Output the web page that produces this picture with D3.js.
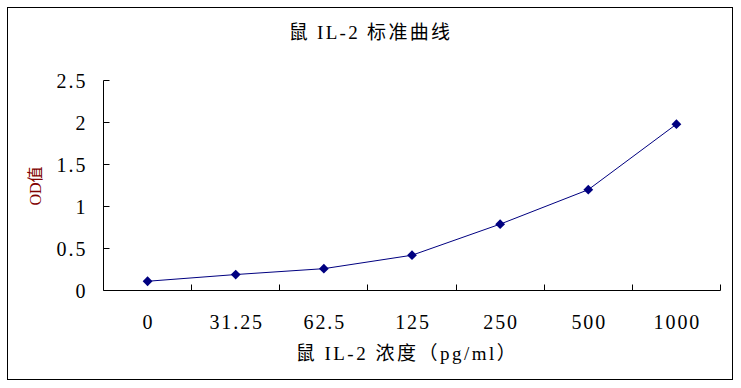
<!DOCTYPE html>
<html><head><meta charset="utf-8">
<script src="https://cdn.jsdelivr.net/npm/d3@7"></script>
<style>
html,body{margin:0;padding:0;background:#fff;}
svg text{font-family:"Liberation Serif","Noto Sans CJK SC",serif;}
</style></head>
<body>
<svg id="c" width="741" height="388"></svg>
<script>
const categories = ["0", "31.25", "62.5", "125", "250", "500", "1000"];
const odValues = [0.11, 0.19, 0.26, 0.42, 0.79, 1.20, 1.98];
const yTicks = [0, 0.5, 1, 1.5, 2, 2.5];
const yTickLabels = ["0", "0.5", "1", "1.5", "2", "2.5"];
const titleText = "鼠 IL-2 标准曲线";
const xTitleText = "鼠 IL-2 浓度（pg/ml）";
const yTitleText = "OD值";

const svg = d3.select("#c");
svg.append("rect").attr("x",7.5).attr("y",7.5).attr("width",725).attr("height",372)
  .attr("fill","#fff").attr("stroke","#000").attr("stroke-width",1);

const x = d3.scaleBand().domain(categories).range([103.5, 720.5]).padding(0);
const y = d3.scaleLinear().domain([0, 2.5]).range([290.5, 80.5]);

svg.append("line").attr("x1",103.5).attr("x2",103.5).attr("y1",y(0)).attr("y2",y(2.5)).attr("stroke","#000");
svg.append("line").attr("x1",103.5).attr("x2",720.5).attr("y1",y(0)).attr("y2",y(0)).attr("stroke","#000");

svg.selectAll(".yt").data(yTicks).enter().append("line")
  .attr("x1",103.5).attr("x2",109.5).attr("y1",d=>Math.round(y(d)-0.5)+0.5).attr("y2",d=>Math.round(y(d)-0.5)+0.5)
  .attr("stroke","#000");
svg.selectAll(".yl").data(yTicks).enter().append("text")
  .attr("x",87.5).attr("y",d=>y(d)+7).attr("text-anchor","end")
  .attr("font-size",20).attr("letter-spacing",2).attr("fill","#000")
  .text((d,i)=>yTickLabels[i]);

const bounds = categories.slice(1).map(c=>x(c)).concat([x.range()[1]]);
svg.selectAll(".xt").data(bounds).enter().append("line")
  .attr("x1",d=>Math.round(d-0.5)+0.5).attr("x2",d=>Math.round(d-0.5)+0.5)
  .attr("y1",y(0)).attr("y2",y(0)-6).attr("stroke","#000");
svg.selectAll(".xl").data(categories).enter().append("text")
  .attr("x",d=>x(d)+x.bandwidth()/2+1).attr("y",329).attr("text-anchor","middle")
  .attr("font-size",20).attr("letter-spacing",1.9).attr("fill","#000")
  .text(d=>d);

const line = d3.line().x((d,i)=>x(categories[i])+x.bandwidth()/2).y(d=>y(d));
svg.append("path").datum(odValues).attr("d",line).attr("fill","none")
  .attr("stroke","#000080").attr("stroke-width",1);
svg.selectAll(".pt").data(odValues).enter().append("path")
  .attr("d",d3.symbol().type(d3.symbolSquare).size(48))
  .attr("transform",(d,i)=>`translate(${x(categories[i])+x.bandwidth()/2},${y(d)}) rotate(45)`)
  .attr("fill","#000080");

svg.append("text").attr("x",370.5).attr("y",39).attr("text-anchor","middle")
  .attr("font-size",19).attr("letter-spacing",2.3).attr("fill","#000").style("white-space","pre").text(titleText);
svg.append("text").attr("x",407).attr("y",360).attr("text-anchor","middle")
  .attr("font-size",19).attr("letter-spacing",2.5).attr("fill","#000").style("white-space","pre").text(xTitleText);
svg.append("text").attr("transform","translate(41,186) rotate(-90)").attr("text-anchor","middle")
  .attr("font-size",16).attr("fill","#800000").text(yTitleText);
</script>
</body></html>
